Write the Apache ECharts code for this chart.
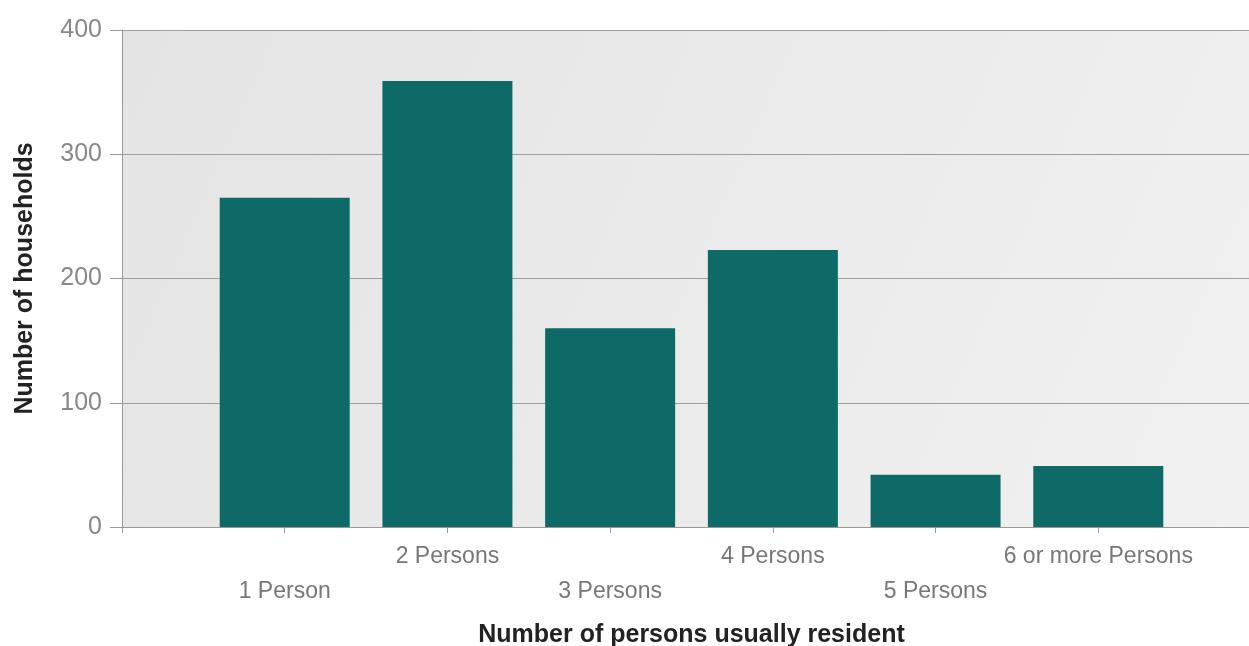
<!DOCTYPE html>
<html lang="en">
<head>
    <meta charset="UTF-8">
    <title>Number of persons usually resident</title>
    <script src="https://cdn.jsdelivr.net/npm/echarts@6/dist/echarts.min.js"></script>
    <style>
        html, body { margin: 0; padding: 0; background: #ffffff; }
        #chart { width: 1249px; height: 646px; }
    </style>
</head>
<body>
<div id="chart"></div>
<script type="text/javascript">

    // categories and values
    let categories = ['1 Person', '2 Persons', '3 Persons', '4 Persons', '5 Persons', '6 or more Persons'];
    let households = [265, 359, 160, 223, 42, 49];
    let yTicks = [0, 100, 200, 300, 400];

    let myChart = echarts.init(document.getElementById('chart'));

    // bars sit at x = 1..6 on a 0..7 axis
    let barData = [];
    for (let i = 0; i < categories.length; i++) {
        barData.push([i + 1, households[i]]);
    }

    let labelFont = 'Liberation Sans';

    let option = {
        backgroundColor: '#ffffff',
        grid: {
            left: 122,
            right: -12,
            top: 30,
            bottom: 119,
            outerBoundsMode: 'none',
            show: true,
            borderWidth: 0,
            backgroundColor: new echarts.graphic.LinearGradient(0, 0, 1, 1, [
                {offset: 0, color: '#e4e4e4'},
                {offset: 1, color: '#f1f1f1'}
            ])
        },
        xAxis: {
            type: 'value',
            min: 0,
            max: 7,
            interval: 1,
            name: 'Number of persons usually resident',
            nameLocation: 'middle',
            nameGap: 96,
            nameTextStyle: {
                fontFamily: labelFont,
                fontWeight: 'bold',
                fontSize: 25,
                color: '#222222'
            },
            axisLine: {show: true, lineStyle: {color: '#9e9694', width: 1}},
            axisTick: {show: true, length: 6, lineStyle: {color: '#9e9694'}},
            splitLine: {show: false},
            axisLabel: {
                margin: 18,
                fontFamily: labelFont,
                fontSize: 23,
                color: '#777777',
                formatter: function (v) {
                    let idx = v - 1;
                    if (idx < 0 || idx >= categories.length) {
                        return '';
                    }
                    if (idx % 2 === 0) {
                        return '{low|' + categories[idx] + '}';
                    }
                    return '{high|' + categories[idx] + '}';
                },
                rich: {
                    high: {fontFamily: labelFont, fontSize: 23, color: '#777777'},
                    low: {fontFamily: labelFont, fontSize: 23, color: '#777777', padding: [35, 0, 0, 0]}
                }
            }
        },
        yAxis: {
            type: 'value',
            min: yTicks[0],
            max: yTicks[yTicks.length - 1],
            interval: 100,
            name: 'Number of households',
            nameLocation: 'middle',
            nameGap: 84,
            nameTextStyle: {
                fontFamily: labelFont,
                fontWeight: 'bold',
                fontSize: 25,
                color: '#222222'
            },
            axisLine: {show: true, lineStyle: {color: '#9e9694', width: 1}},
            axisTick: {show: true, length: 12, lineStyle: {color: '#9e9694'}},
            splitLine: {show: true, lineStyle: {color: '#a39c9a', width: 1}},
            axisLabel: {
                margin: 20,
                fontFamily: labelFont,
                fontSize: 25,
                color: '#888888'
            }
        },
        series: [
            {
                name: 'Households',
                type: 'bar',
                data: barData,
                barWidth: 130,
                itemStyle: {color: '#0d6a66'}
            }
        ]
    };
    myChart.setOption(option);

</script>
</body>
</html>
